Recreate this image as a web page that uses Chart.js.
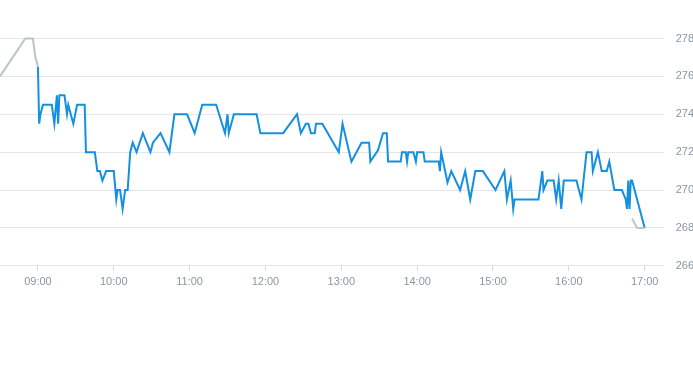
<!DOCTYPE html>
<html>
<head>
<meta charset="utf-8">
<script src="https://cdn.jsdelivr.net/npm/chart.js@4"></script>
<style>
  html, body { margin: 0; padding: 0; background: #fff; }
  body { width: 693px; height: 365px; overflow: hidden; position: relative; }
  #wrap { width: 693px; height: 383px; position: absolute; left: 0; top: -18px; }
</style>
</head>
<body>
<div id="wrap"><canvas id="myChart"></canvas></div>
<script>
// trading session (blue)
var sessionTimes = ['09:00','09:01','09:02','09:04','09:11','09:13','09:15','09:16','09:17','09:21',
  '09:23','09:24','09:28','09:31','09:37','09:38','09:45','09:47','09:49','09:51',
  '09:54','10:00','10:02','10:03','10:05','10:07','10:09','10:11','10:13','10:15',
  '10:18','10:23','10:29','10:31','10:37','10:44','10:48','10:58','11:04','11:10',
  '11:21','11:28','11:30','11:31','11:35','11:53','11:56','12:14','12:25','12:28',
  '12:32','12:34','12:36','12:39','12:40','12:45','12:58','13:01','13:08','13:16',
  '13:22','13:23','13:29','13:33','13:36','13:37','13:47','13:48','13:51','13:52',
  '13:53','13:57','13:59','14:00','14:05','14:06','14:17','14:18','14:19','14:24',
  '14:27','14:34','14:38','14:42','14:46','14:52','15:02','15:09','15:11','15:14',
  '15:16','15:17','15:36','15:39','15:40','15:43','15:48','15:50','15:52','15:54',
  '15:56','16:06','16:10','16:14','16:18','16:19','16:23','16:26','16:30','16:32',
  '16:36','16:42','16:45','16:46','16:47','16:48','16:49','16:50','17:00'];
var sessionPrices = [276.5,273.5,274,274.5,274.5,273.5,275,273.5,275,275,
  274,274.5,273.5,274.5,274.5,272,272,271,271,270.5,
  271,271,269.5,270,270,269,270,270,272,272.5,
  272,273,272,272.5,273,272,274,274,273,274.5,
  274.5,273,274,273,274,274,273,273,274,273,
  273.5,273.5,273,273,273.5,273.5,272,273.5,271.5,272.5,
  272.5,271.5,272.1,273,273,271.5,271.5,272,272,271.5,
  272,272,271.5,272,272,271.5,271.5,271,272,270.4,
  271,270,271,269.5,271,271,270,271,269.5,270.5,
  269,269.5,269.5,271,270,270.5,270.5,269.5,270.5,269,
  270.5,270.5,269.5,272,272,271,272,271,271,271.5,
  270,270,269.5,269,270.5,269,270.5,270.5,268];

// pre-market (grey)
var preTimes = ['08:30','08:50','08:56','08:58','08:59','09:00'];
var prePrices = [276,278,278,277,276.8,276.5];

// after-hours (grey)
var postTimes = ['16:50','16:54','17:00'];
var postPrices = [268.5,268,268];

var hourTicks = ['09:00','10:00','11:00','12:00','13:00','14:00','15:00','16:00','17:00'];
var priceTicks = [266,268,270,272,274,276,278];

function toMin(s) {
  var p = s.split(':');
  return parseInt(p[0], 10) * 60 + parseInt(p[1], 10);
}
function fmt(m) {
  var h = Math.floor(m / 60), mm = m % 60;
  return (h < 10 ? '0' : '') + h + ':' + (mm < 10 ? '0' : '') + mm;
}
function pts(times, vals) {
  return times.map(function (t, i) { return { x: toMin(t), y: vals[i] }; });
}

var grey = '#b9c5cd';
var blue = '#1590e0';
var font = { family: '"Liberation Sans", Arial, sans-serif', size: 11 };

var ctx = document.getElementById('myChart').getContext('2d');
var myChart = new Chart(ctx, {
  type: 'line',
  data: {
    datasets: [{
      data: pts(preTimes, prePrices),
      borderColor: grey,
      borderWidth: 2,
      pointRadius: 0,
      tension: 0
    }, {
      data: pts(postTimes, postPrices),
      borderColor: grey,
      borderWidth: 2,
      pointRadius: 0,
      tension: 0
    }, {
      data: pts(sessionTimes, sessionPrices),
      borderColor: blue,
      borderWidth: 2,
      pointRadius: 0,
      tension: 0
    }]
  },
  options: {
    responsive: true,
    maintainAspectRatio: false,
    animation: false,
    layout: { padding: { left: 0, right: -13, top: 0, bottom: 71 } },
    plugins: { legend: { display: false }, tooltip: { enabled: false } },
    scales: {
      x: {
        type: 'linear',
        min: toMin('08:30'),
        max: toMin('17:15'),
        afterBuildTicks: function (scale) {
          scale.ticks = hourTicks.map(function (t) { return { value: toMin(t) }; });
        },
        ticks: {
          color: '#8a96a3',
          font: font,
          padding: 5,
          maxRotation: 0,
          callback: function (v) { return fmt(v); }
        },
        grid: { drawOnChartArea: false, tickLength: 5, color: '#d5d9dd' },
        border: { display: false }
      },
      y: {
        position: 'right',
        min: 266,
        max: 280,
        afterBuildTicks: function (scale) {
          scale.ticks = priceTicks.map(function (v) { return { value: v }; });
        },
        ticks: { color: '#8a96a3', font: font, padding: 12 },
        grid: { color: '#e4e7ea', drawTicks: false },
        border: { display: false }
      }
    }
  }
});
</script>
</body>
</html>
